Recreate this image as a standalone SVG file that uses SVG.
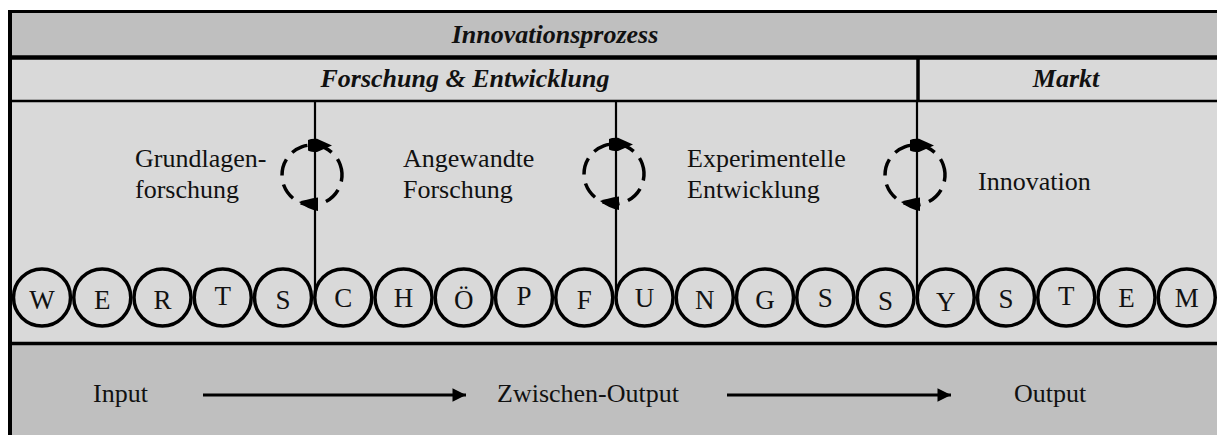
<svg xmlns="http://www.w3.org/2000/svg" width="1217" height="435" viewBox="0 0 1217 435" font-family="'Liberation Serif', 'Times New Roman', serif">
<style>
  text { font-family: "Liberation Serif", "Times New Roman", serif; fill: #111; }
  .hdr { font-size: 26px; font-weight: bold; font-style: italic; text-anchor: middle; }
  .lbl { font-size: 26px; }
  .let { font-size: 27px; text-anchor: middle; }
  .ring { fill: none; stroke: #000; stroke-width: 3.5; }
  .cyc { fill: none; stroke: #000; stroke-width: 3.5; stroke-dasharray: 17 9; }
  .vline { stroke: #000; stroke-width: 2.2; }
  .arrow { stroke: #000; stroke-width: 3; fill: none; }
</style>
<defs>
  <path id="headTop" d="M -7,140 Q -4,138.5 2,138.8 L 17,145.5 L 2,152 Q -4,152 -7,150.5 Z" fill="#000"/>
  <path id="headBot" d="M 3,197.5 L 3,211 Q -6,210 -16,202 Q -8,199 3,197.5 Z" fill="#000"/>
  <marker id="ah" viewBox="0 0 10 10" refX="10" refY="5" markerWidth="5.5" markerHeight="4.5" orient="auto" markerUnits="strokeWidth">
    <path d="M0,0 L10,5 L0,10 Z" fill="#000"/>
  </marker>
</defs>

<!-- backgrounds -->
<g id="band-innovationsprozess">
  <rect x="10" y="11" width="1207" height="46" fill="#bfbfbf"/>
  <text class="hdr" x="555" y="43" font-family="'Liberation Serif', serif">Innovationsprozess</text>
</g>
<g id="band-fe">
  <rect x="10" y="58" width="908" height="43" fill="#d9d9d9"/>
  <text class="hdr" x="465" y="87" font-family="'Liberation Serif', serif">Forschung &amp; Entwicklung</text>
</g>
<g id="band-markt">
  <rect x="918" y="58" width="299" height="43" fill="#d9d9d9"/>
  <text class="hdr" x="1066" y="87" font-family="'Liberation Serif', serif">Markt</text>
</g>
<g id="main-area">
  <rect x="10" y="101" width="1207" height="242" fill="#d9d9d9"/>
</g>
<g id="bottom-area">
  <rect x="10" y="343" width="1207" height="92" fill="#bfbfbf"/>
</g>

<!-- frame lines -->
<g id="frame" stroke="#000" fill="none">
  <line x1="10" y1="11.5" x2="1217" y2="11.5" stroke-width="3"/>
  <line x1="10" y1="57.5" x2="1217" y2="57.5" stroke-width="4.5"/>
  <line x1="10" y1="101" x2="1217" y2="101" stroke-width="2.5"/>
  <line x1="10" y1="343.5" x2="1217" y2="343.5" stroke-width="3.5"/>
  <line x1="10" y1="10" x2="10" y2="435" stroke-width="4"/>
  <line x1="918" y1="57" x2="918" y2="102" stroke-width="3.5"/>
</g>

<!-- phase labels -->
<g id="phase-grundlagen" font-family="'Liberation Serif', serif">
  <text class="lbl" x="135" y="167" font-family="'Liberation Serif', serif">Grundlagen-</text>
  <text class="lbl" x="135" y="198" font-family="'Liberation Serif', serif">forschung</text>
</g>
<g id="phase-angewandte" font-family="'Liberation Serif', serif">
  <text class="lbl" x="403" y="167" font-family="'Liberation Serif', serif">Angewandte</text>
  <text class="lbl" x="403" y="198" font-family="'Liberation Serif', serif">Forschung</text>
</g>
<g id="phase-experimentelle" font-family="'Liberation Serif', serif">
  <text class="lbl" x="687" y="167" font-family="'Liberation Serif', serif">Experimentelle</text>
  <text class="lbl" x="687" y="198" font-family="'Liberation Serif', serif">Entwicklung</text>
</g>
<g id="phase-innovation" font-family="'Liberation Serif', serif">
  <text class="lbl" x="978" y="190" font-family="'Liberation Serif', serif">Innovation</text>
</g>

<!-- connectors -->
<g id="connectors">
  <line class="vline" x1="315" y1="101" x2="315" y2="297"/>
  <line class="vline" x1="616" y1="101" x2="616" y2="297"/>
  <line class="vline" x1="917" y1="101" x2="917" y2="297"/>

  <circle class="cyc" cx="312" cy="175" r="30" transform="rotate(-20 312 175)"/>
  <use href="#headTop" transform="translate(315,0)"/>
  <use href="#headBot" transform="translate(315,0)"/>

  <circle class="cyc" cx="614" cy="174" r="30" transform="rotate(-20 614 174)"/>
  <use href="#headTop" transform="translate(616,-1)"/>
  <use href="#headBot" transform="translate(616,-1)"/>

  <circle class="cyc" cx="915" cy="175" r="30" transform="rotate(-20 915 175)"/>
  <use href="#headTop" transform="translate(917,0)"/>
  <use href="#headBot" transform="translate(917,0)"/>

  <line class="arrow" x1="203" y1="395" x2="466" y2="395" marker-end="url(#ah)"/>
  <line class="arrow" x1="727" y1="395" x2="951" y2="395" marker-end="url(#ah)"/>
</g>

<!-- flow labels -->
<g id="label-input"><text class="lbl" x="93" y="402" font-family="'Liberation Serif', serif">Input</text></g>
<g id="label-zwischen"><text class="lbl" x="497" y="402" font-family="'Liberation Serif', serif">Zwischen-Output</text></g>
<g id="label-output"><text class="lbl" x="1014" y="402" font-family="'Liberation Serif', serif">Output</text></g>

<!-- letter circles -->
<g id="c01"><circle class="ring" cx="42" cy="297.5" r="28.5"/><text class="let" x="42" y="309">W</text></g>
<g id="c02"><circle class="ring" cx="102.25" cy="297.5" r="28.5"/><text class="let" x="102.25" y="309">E</text></g>
<g id="c03"><circle class="ring" cx="162.5" cy="297.5" r="28.5"/><text class="let" x="162.5" y="309">R</text></g>
<g id="c04"><circle class="ring" cx="222.75" cy="297.5" r="28.5"/><text class="let" x="222.75" y="305">T</text></g>
<g id="c05"><circle class="ring" cx="283" cy="297.5" r="28.5"/><text class="let" x="283" y="309">S</text></g>
<g id="c06"><circle class="ring" cx="343.25" cy="297.5" r="28.5"/><text class="let" x="343.25" y="307">C</text></g>
<g id="c07"><circle class="ring" cx="403.5" cy="297.5" r="28.5"/><text class="let" x="403.5" y="307">H</text></g>
<g id="c08"><circle class="ring" cx="463.75" cy="297.5" r="28.5"/><text class="let" x="463.75" y="309">Ö</text></g>
<g id="c09"><circle class="ring" cx="524" cy="297.5" r="28.5"/><text class="let" x="524" y="305">P</text></g>
<g id="c10"><circle class="ring" cx="584.25" cy="297.5" r="28.5"/><text class="let" x="584.25" y="309">F</text></g>
<g id="c11"><circle class="ring" cx="644.5" cy="297.5" r="28.5"/><text class="let" x="644.5" y="307">U</text></g>
<g id="c12"><circle class="ring" cx="704.75" cy="297.5" r="28.5"/><text class="let" x="704.75" y="309">N</text></g>
<g id="c13"><circle class="ring" cx="765" cy="297.5" r="28.5"/><text class="let" x="765" y="309">G</text></g>
<g id="c14"><circle class="ring" cx="825.25" cy="297.5" r="28.5"/><text class="let" x="825.25" y="307">S</text></g>
<g id="c15"><circle class="ring" cx="885.5" cy="297.5" r="28.5"/><text class="let" x="885.5" y="310">S</text></g>
<g id="c16"><circle class="ring" cx="945.75" cy="297.5" r="28.5"/><text class="let" x="945.75" y="311">Y</text></g>
<g id="c17"><circle class="ring" cx="1006" cy="297.5" r="28.5"/><text class="let" x="1006" y="308">S</text></g>
<g id="c18"><circle class="ring" cx="1066.25" cy="297.5" r="28.5"/><text class="let" x="1066.25" y="305">T</text></g>
<g id="c19"><circle class="ring" cx="1126.5" cy="297.5" r="28.5"/><text class="let" x="1126.5" y="307">E</text></g>
<g id="c20"><circle class="ring" cx="1186.75" cy="297.5" r="28.5"/><text class="let" x="1186.75" y="307">M</text></g>
</svg>
